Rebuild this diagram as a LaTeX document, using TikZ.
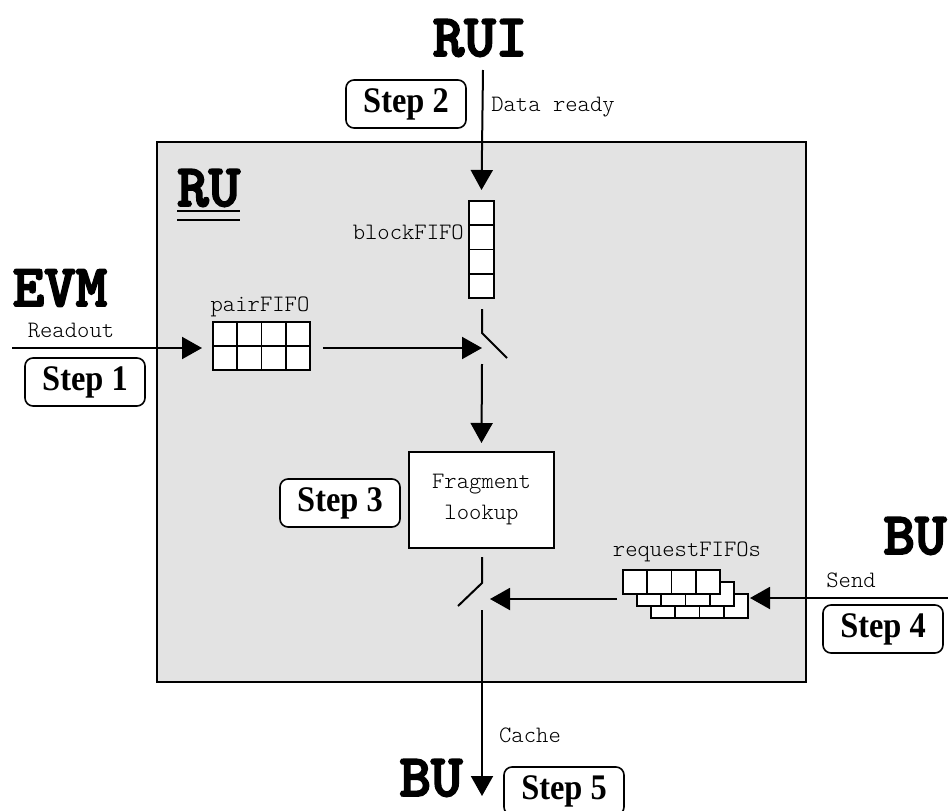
\documentclass[tikz,border=0pt]{standalone}
\usepackage{fontspec}
\setmainfont{Liberation Serif}
\setmonofont{lmmonolt10-regular.otf}[BoldFont=lmmonolt10-bold.otf]
\newfontfamily\heavymono{lmmonolt10-bold.otf}[FakeBold=3]
\newfontfamily\stepfont{Liberation Serif}[FakeStretch=0.9]
\usetikzlibrary{arrows.meta}
\begin{document}
\begin{tikzpicture}[x=1pt,y=-1pt,
  wire/.style={line width=2pt},
  flow/.style={wire,-{Triangle[length=20pt,width=22pt]}},
  stepbox/.style={draw,line width=1.6pt,rounded corners=8pt,fill=white,
    minimum width=120pt,minimum height=48pt,inner sep=0pt,
    font=\fontsize{36}{40}\stepfont\bfseries},
  endpoint/.style={inner sep=0pt,font=\fontsize{60}{66}\selectfont\heavymono},
  tag/.style={inner sep=0pt,font=\fontsize{23.5}{26}\selectfont\ttfamily},
  cell/.style={draw,fill=white,line width=1.6pt},
  unitbox/.style={draw,line width=2.4pt,fill=black!11}]
\useasboundingbox (0,0) rectangle (948,811);

% readout unit frame
\draw[unitbox] (157,142) rectangle (806,682);
\node[endpoint,anchor=base west] (ru) at (177,206) {RU};
\draw[line width=2.4pt] (ru.south west |- 0,211) -- (ru.south east |- 0,211)
                        (ru.south west |- 0,220) -- (ru.south east |- 0,220);

% external units
\node[endpoint] (rui) at (480,38) {RUI};
\node[endpoint] (evm) at (60,288) {EVM};
\node[endpoint] (buR) at (915,536) {BU};
\node[endpoint] (buB) at (431,778) {BU};

% step labels
\node[stepbox] (s1) at (85,382) {Step 1};
\node[stepbox] (s2) at (406,104) {Step 2};
\node[stepbox] (s3) at (340,503) {Step 3};
\node[stepbox] (s4) at (883,629) {Step 4};
\node[stepbox] (s5) at (564,791) {Step 5};

% connector labels
\node[tag] (lready) at (553,107) {Data ready};
\node[tag] (lread) at (71,330) {Readout};
\node[tag] (lsend) at (851,580) {Send};
\node[tag] (lcache) at (530,735) {Cache};

% blockFIFO: column of four cells
\node[cell,minimum width=25pt,minimum height=97pt,inner sep=0pt] (block) at (481.5,249.5) {};
\foreach \i in {1,2,3}
  \draw[line width=1.6pt] (469,201+24.25*\i) -- (494,201+24.25*\i);
\node[tag,anchor=east] (lblock) at (464,232) {blockFIFO};

% pairFIFO: 4 x 2 cells
\node[cell,minimum width=97pt,minimum height=48pt,inner sep=0pt] (pair) at (261.5,346) {};
\foreach \i in {1,2,3}
  \draw[line width=1.6pt] (213+24.25*\i,322) -- (213+24.25*\i,370);
\draw[line width=1.6pt] (213,346) -- (310,346);
\node[tag] (lpair) at (260,307) {pairFIFO};

% requestFIFOs: three stacked rows, back to front
\foreach \k in {2,1,0} {
  \draw[cell] (623+14*\k,570+12*\k) rectangle ++(97,24);
  \foreach \i in {1,2,3}
    \draw[line width=1.6pt] (623+14*\k+24.25*\i,570+12*\k) -- ++(0,24);
}
\coordinate (req) at (623,570);
\coordinate (reqR) at (750,598);
\coordinate (reqL) at (617,599);
\node[tag] (lreq) at (687,552) {requestFIFOs};

% fragment lookup
\node[draw,fill=white,line width=1.6pt,minimum width=145pt,minimum height=96pt,
      align=center,inner sep=0pt,font=\fontsize{23.5}{31}\selectfont\ttfamily]
  (frag) at (481.5,500) {Fragment\\lookup};

% switch between the FIFOs and the lookup
\coordinate (swAtop) at (482,309);
\coordinate (swApiv) at (482,333);
\coordinate (swAend) at (507,358);
\coordinate (swAin) at (482,348);
\coordinate (swAout) at (482,364);
\draw[wire] (swAtop) -- (swApiv) -- (swAend);

% switch between the lookup and the builder
\coordinate (swBtop) at (482,557);
\coordinate (swBpiv) at (482,583);
\coordinate (swBend) at (458,606);
\coordinate (swBin) at (490,599);
\coordinate (swBout) at (482,610);
\draw[wire] (swBtop) -- (swBpiv) -- (swBend);

% data flow
\coordinate (ruiOut) at (483,70);
\coordinate (evmOut) at (12,348);
\coordinate (buIn) at (948,598);
\coordinate (buEnd) at (482,796);
\draw[flow] (ruiOut) -- (block.north |- 0,190);
\draw[flow] (evmOut) -- (202,348);
\draw[flow] (pair.east |- 0,348) ++(12,0) -- (swAin);
\draw[flow] (swAout) -- (frag.north |- 0,443);
\draw[flow] (buIn) -- (reqR);
\draw[flow] (reqL) -- (swBin);
\draw[flow] (swBout) -- (buEnd);
\end{tikzpicture}
\end{document}
